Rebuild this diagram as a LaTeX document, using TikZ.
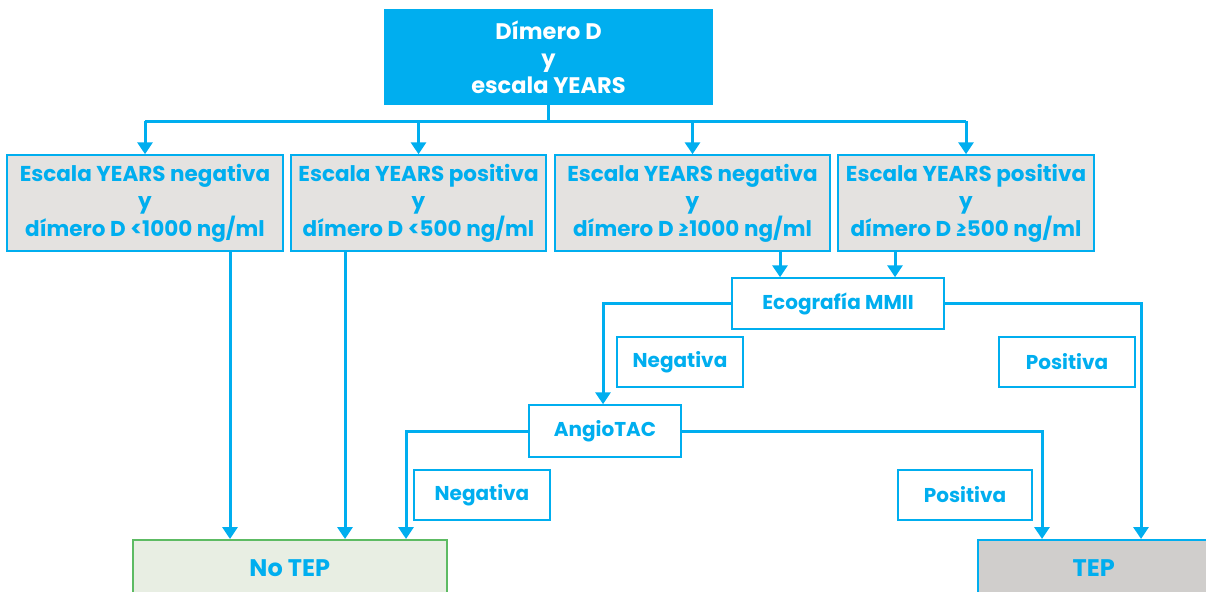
\documentclass[tikz,border=0pt]{standalone}
\usepackage{fontspec}
\setmainfont{Poppins}
\usetikzlibrary{arrows.meta}
\definecolor{cy}{HTML}{00AEEF}
\definecolor{gfill}{HTML}{E4E2E0}
\definecolor{nfill}{HTML}{E8EEE3}
\definecolor{ngreen}{HTML}{5DBB63}
\definecolor{tfill}{HTML}{D0CECC}
\begin{document}
\begin{tikzpicture}[x=1pt,y=-1pt,
  every node/.style={font=\fontsize{20}{27}\selectfont\bfseries, align=center, inner sep=0pt},
  boxg/.style={draw=cy, line width=1.5pt, fill=gfill, text=cy, minimum height=96pt, font=\fontsize{21.5}{27.5}\selectfont\bfseries},
  lab/.style={draw=cy, line width=1.5pt, fill=white, text=cy, minimum height=50pt},
  endbox/.style={line width=1.5pt, text=cy, minimum height=56pt, anchor=north west, font=\fontsize{24}{27}\selectfont\bfseries},
  conn/.style={draw=cy, line width=3pt},
  arr/.style={conn, -{Triangle[width=15pt,length=12pt]}}]
\clip (0,0) rectangle (1206,591);
\useasboundingbox (0,0) rectangle (1206,591);
\node[fill=cy, text=white, minimum width=329pt, minimum height=96pt, font=\fontsize{22.5}{27}\selectfont\bfseries] (top) at (548.5,57) {Dímero D\\y\\escala YEARS};
\node[boxg, minimum width=276pt] (b1) at (145,203) {Escala YEARS negativa\\y\\dímero D <1000 ng/ml};
\node[boxg, minimum width=255pt] (b2) at (418.5,203) {Escala YEARS positiva\\y\\dímero D <500 ng/ml};
\node[boxg, minimum width=275pt] (b3) at (692.5,203) {Escala YEARS negativa\\y\\dímero D ≥1000 ng/ml};
\node[boxg, minimum width=256pt] (b4) at (966,203) {Escala YEARS positiva\\y\\dímero D ≥500 ng/ml};
\node[lab, minimum width=212pt, minimum height=51pt] (eco) at (838,303.5) {Ecografía MMII};
\node[lab, minimum width=126pt] (neg1) at (680,362) {Negativa};
\node[lab, minimum width=136pt] (pos1) at (1067,362) {Positiva};
\node[lab, minimum width=152pt, minimum height=52pt] (angio) at (605,431) {AngioTAC};
\node[lab, minimum width=136pt] (neg2) at (482,495) {Negativa};
\node[lab, minimum width=134pt] (pos2) at (965,495) {Positiva};
\node[endbox, draw=ngreen, fill=nfill, minimum width=314pt] (notep) at (132,539) {No TEP};
\node[endbox, draw=cy, fill=tfill, minimum width=232pt] (tep) at (977,539) {TEP};
% connectors
\draw[conn] (top.south) -- ++(0,16) coordinate (hub);
\draw[conn] (b1.north |- hub) -- (b4.north |- hub);
\foreach \b in {b1,b2,b3,b4} \draw[arr] (\b.north |- hub) -- (\b.north);
\draw[arr] ([xshift=85pt]b1.south) -- ([xshift=85pt]b1.south |- notep.north);
\draw[arr] ([xshift=-73.5pt]b2.south) -- ([xshift=-73.5pt]b2.south |- notep.north);
\draw[arr] ([xshift=87.5pt]b3.south) -- ([xshift=87.5pt]b3.south |- eco.north);
\draw[arr] ([xshift=-71pt]b4.south) -- ([xshift=-71pt]b4.south |- eco.north);
\draw[arr] (eco.west) -| ([xshift=-2pt]angio.north);
\draw[arr] (eco.east) -| ([xshift=164pt]tep.north west);
\draw[arr] (angio.west) -| ([xshift=274pt]notep.north west);
\draw[arr] (angio.east) -| ([xshift=65pt]tep.north west);
\end{tikzpicture}
\end{document}
